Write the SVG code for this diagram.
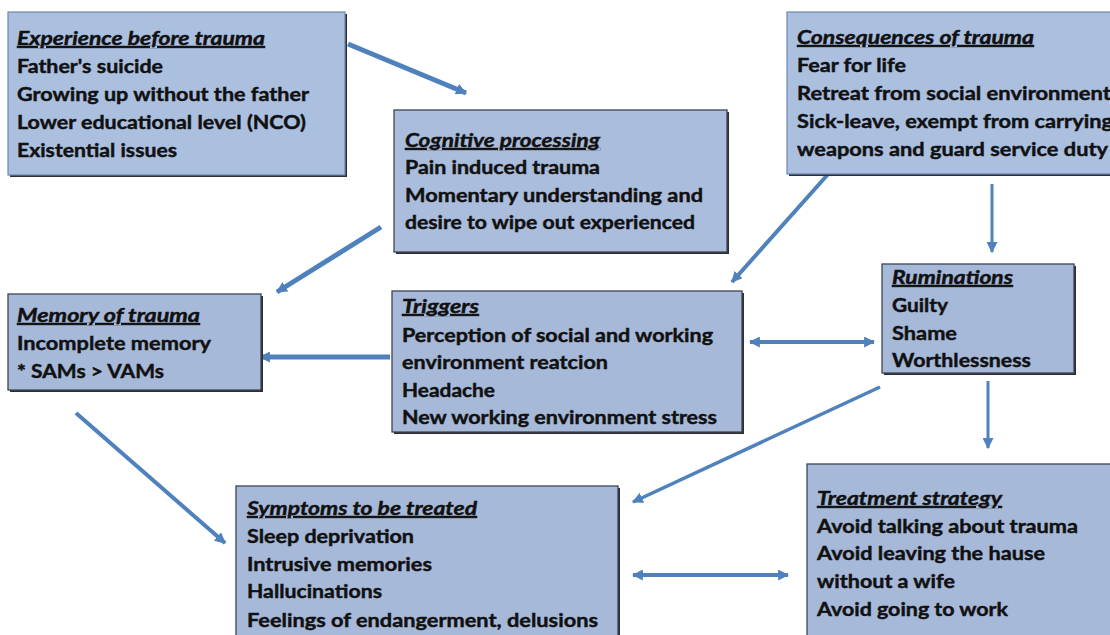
<svg xmlns="http://www.w3.org/2000/svg" width="1110" height="635" viewBox="0 0 1110 635">
<style>
.box{fill:#a6b9d9;stroke:#3c4656;stroke-width:1.3}
.boxl{fill:#abbfdf;stroke:#6a88b8;stroke-width:1.2}
.sh{fill:#2e2e2e}
text{font-family:Lato,"Liberation Sans",sans-serif;font-weight:bold;font-size:19.5px;fill:#111;stroke:#111;stroke-width:0.45}
.t{font-style:italic;text-decoration:underline}
.c{fill:none;stroke:#4f81bd;stroke-linecap:butt}
</style>
<defs>
<marker id="ah" viewBox="0 0 10 10" markerUnits="userSpaceOnUse" markerWidth="11" markerHeight="11" refX="9" refY="5" orient="auto-start-reverse">
<path d="M0,0 L10,5 L0,10 z" fill="#4f81bd"/>
</marker>
</defs>
<rect width="1110" height="635" fill="#fff"/>

<g id="connectors">
<line class="c" x1="348" y1="44" x2="466" y2="93" stroke-width="5" marker-end="url(#ah)"/>
<line class="c" x1="381" y1="227" x2="277" y2="292" stroke-width="5" marker-end="url(#ah)"/>
<line class="c" x1="830" y1="172" x2="732" y2="282" stroke-width="4" marker-end="url(#ah)"/>
<line class="c" x1="992" y1="184" x2="992" y2="252" stroke-width="3" marker-end="url(#ah)"/>
<line class="c" x1="390" y1="357" x2="260" y2="357" stroke-width="5" marker-end="url(#ah)"/>
<line class="c" x1="750" y1="342" x2="874" y2="342" stroke-width="4" marker-start="url(#ah)" marker-end="url(#ah)"/>
<line class="c" x1="988" y1="381" x2="988" y2="448" stroke-width="3" marker-end="url(#ah)"/>
<line class="c" x1="880" y1="387" x2="633" y2="502" stroke-width="3.5" marker-end="url(#ah)"/>
<line class="c" x1="76" y1="413" x2="225" y2="543" stroke-width="4" marker-end="url(#ah)"/>
<line class="c" x1="633" y1="575" x2="788" y2="575" stroke-width="4" marker-start="url(#ah)" marker-end="url(#ah)"/>
</g>

<g id="experience">
<rect class="sh" x="10" y="14" width="337" height="163"/>
<rect class="boxl" x="8" y="12" width="337" height="163"/>
<text class="t" x="17" y="45" textLength="248" lengthAdjust="spacingAndGlyphs">Experience before trauma</text>
<text x="17" y="73" textLength="146" lengthAdjust="spacingAndGlyphs">Father's suicide</text>
<text x="17" y="101" textLength="292" lengthAdjust="spacingAndGlyphs">Growing up without the father</text>
<text x="17" y="129" textLength="289" lengthAdjust="spacingAndGlyphs">Lower educational level (NCO)</text>
<text x="17" y="157" textLength="160" lengthAdjust="spacingAndGlyphs">Existential issues</text>
</g>

<g id="cognitive">
<rect class="sh" x="396" y="112" width="333" height="142"/>
<rect class="box" x="394" y="110" width="333" height="142" style="fill:#aabddd"/>
<text class="t" x="405" y="147" textLength="195" lengthAdjust="spacingAndGlyphs">Cognitive processing</text>
<text x="405" y="174" textLength="195" lengthAdjust="spacingAndGlyphs">Pain induced trauma</text>
<text x="405" y="202" textLength="298" lengthAdjust="spacingAndGlyphs">Momentary understanding and</text>
<text x="405" y="229" textLength="290" lengthAdjust="spacingAndGlyphs">desire to wipe out experienced</text>
</g>

<g id="consequences">
<rect class="sh" x="789" y="14" width="340" height="162"/>
<rect class="boxl" x="787" y="12" width="340" height="162"/>
<text class="t" x="797" y="44" textLength="237" lengthAdjust="spacingAndGlyphs">Consequences of trauma</text>
<text x="797" y="72" textLength="109" lengthAdjust="spacingAndGlyphs">Fear for life</text>
<text x="797" y="100" textLength="314" lengthAdjust="spacingAndGlyphs">Retreat from social environment</text>
<text x="797" y="128" textLength="316" lengthAdjust="spacingAndGlyphs">Sick-leave, exempt from carrying</text>
<text x="797" y="156" textLength="311" lengthAdjust="spacingAndGlyphs">weapons and guard service duty</text>
</g>

<g id="memory">
<rect class="sh" x="10" y="296" width="253" height="96"/>
<rect class="box" x="8" y="294" width="253" height="96"/>
<text class="t" x="17" y="322" textLength="183" lengthAdjust="spacingAndGlyphs">Memory of trauma</text>
<text x="17" y="350" textLength="194" lengthAdjust="spacingAndGlyphs">Incomplete memory</text>
<text x="17" y="378" textLength="147" lengthAdjust="spacingAndGlyphs">* SAMs &gt; VAMs</text>
</g>

<g id="triggers">
<rect class="sh" x="394" y="293" width="350" height="141"/>
<rect class="box" x="392" y="291" width="350" height="141"/>
<text class="t" x="402" y="313" textLength="77" lengthAdjust="spacingAndGlyphs">Triggers</text>
<text x="402" y="342" textLength="311" lengthAdjust="spacingAndGlyphs">Perception of social and working</text>
<text x="402" y="369" textLength="206" lengthAdjust="spacingAndGlyphs">environment reatcion</text>
<text x="402" y="397" textLength="93" lengthAdjust="spacingAndGlyphs">Headache</text>
<text x="402" y="424" textLength="315" lengthAdjust="spacingAndGlyphs">New working environment stress</text>
</g>

<g id="ruminations">
<rect class="sh" x="884" y="266" width="192" height="109"/>
<rect class="box" x="882" y="264" width="192" height="109"/>
<text class="t" x="892" y="284" textLength="121" lengthAdjust="spacingAndGlyphs">Ruminations</text>
<text x="892" y="312" textLength="56" lengthAdjust="spacingAndGlyphs">Guilty</text>
<text x="892" y="340" textLength="65" lengthAdjust="spacingAndGlyphs">Shame</text>
<text x="892" y="367" textLength="139" lengthAdjust="spacingAndGlyphs">Worthlessness</text>
</g>

<g id="symptoms">
<rect class="sh" x="238" y="488" width="382" height="160"/>
<rect class="box" x="236" y="486" width="382" height="160"/>
<text class="t" x="247" y="515" textLength="230" lengthAdjust="spacingAndGlyphs">Symptoms to be treated</text>
<text x="247" y="543" textLength="167" lengthAdjust="spacingAndGlyphs">Sleep deprivation</text>
<text x="247" y="571" textLength="185" lengthAdjust="spacingAndGlyphs">Intrusive memories</text>
<text x="247" y="598" textLength="135" lengthAdjust="spacingAndGlyphs">Hallucinations</text>
<text x="247" y="627" textLength="351" lengthAdjust="spacingAndGlyphs">Feelings of endangerment, delusions</text>
</g>

<g id="treatment">
<rect class="sh" x="809" y="466" width="320" height="180"/>
<rect class="box" x="807" y="464" width="320" height="180"/>
<text class="t" x="817" y="505" textLength="185" lengthAdjust="spacingAndGlyphs">Treatment strategy</text>
<text x="817" y="533" textLength="261" lengthAdjust="spacingAndGlyphs">Avoid talking about trauma</text>
<text x="817" y="560" textLength="228" lengthAdjust="spacingAndGlyphs">Avoid leaving the hause</text>
<text x="817" y="588" textLength="138" lengthAdjust="spacingAndGlyphs">without a wife</text>
<text x="817" y="616" textLength="191" lengthAdjust="spacingAndGlyphs">Avoid going to work</text>
</g>
</svg>
